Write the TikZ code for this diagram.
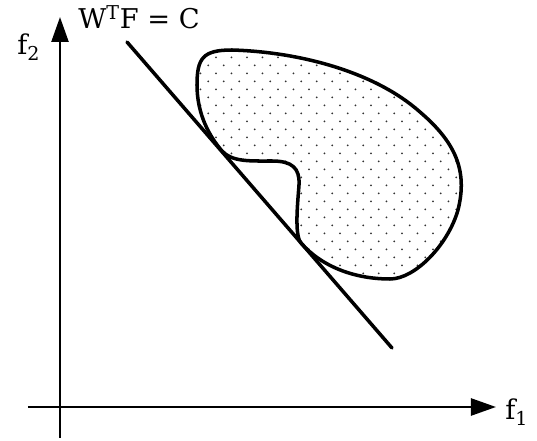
\documentclass[tikz,border=0pt]{standalone}
\usepackage{fontspec}
\setmainfont{DejaVu Serif}
\usetikzlibrary{arrows.meta}
\begin{document}
\begin{tikzpicture}[x=0.2mm, y=-0.2mm, every node/.style={font=\fontsize{15.5}{18}\selectfont, inner sep=0pt},
  axis/.style={line width=1.4pt, -{Triangle[length=5mm, width=3.4mm]}},
  bold/.style={line width=2pt, line join=round, line cap=round}]
  \useasboundingbox (0,0) rectangle (537,441);
  \coordinate (xa) at (28,407);
  \coordinate (xb) at (496,407);
  \coordinate (ya) at (60,438);
  \coordinate (yb) at (60,17);
  \draw[axis] (xa) -- (xb);
  \draw[axis] (ya) -- (yb);
  \node[anchor=base west] (fone) at (505,420) {f\textsubscript{1}};
  \node[anchor=base west] (ftwo) at (17,55) {f\textsubscript{2}};
  \node[anchor=base west] (eq) at (78,29) {W\textsuperscript{T}F = C};
  \def\blob{(222,151) .. controls (210,137) and (197,115) .. (197,85)
    .. controls (197,58) and (203,50) .. (232,50)
    .. controls (300,52) and (375,72) .. (420,112)
    .. controls (455,142) and (468,170) .. (458,210)
    .. controls (448,245) and (415,279) .. (390,279)
    .. controls (355,279) and (322,267) .. (301,243)
    .. controls (294,235) and (298,200) .. (299,185)
    .. controls (300,168) and (292,161) .. (272,161)
    .. controls (250,161) and (232,162) .. (222,151) -- cycle}
  \begin{scope}
    \clip \blob;
    \foreach \r in {0,...,30}
      \foreach \c in {0,...,19}
        \fill[black!80] ({185+15.5*\c+7.75*mod(\r+1,2)},{49.3+8*\r}) circle (0.2mm);
  \end{scope}
  \draw[bold] \blob;
  \coordinate (la) at (127,42);
  \coordinate (lb) at (392,348);
  \draw[bold] (la) -- (lb);
\end{tikzpicture}
\end{document}
